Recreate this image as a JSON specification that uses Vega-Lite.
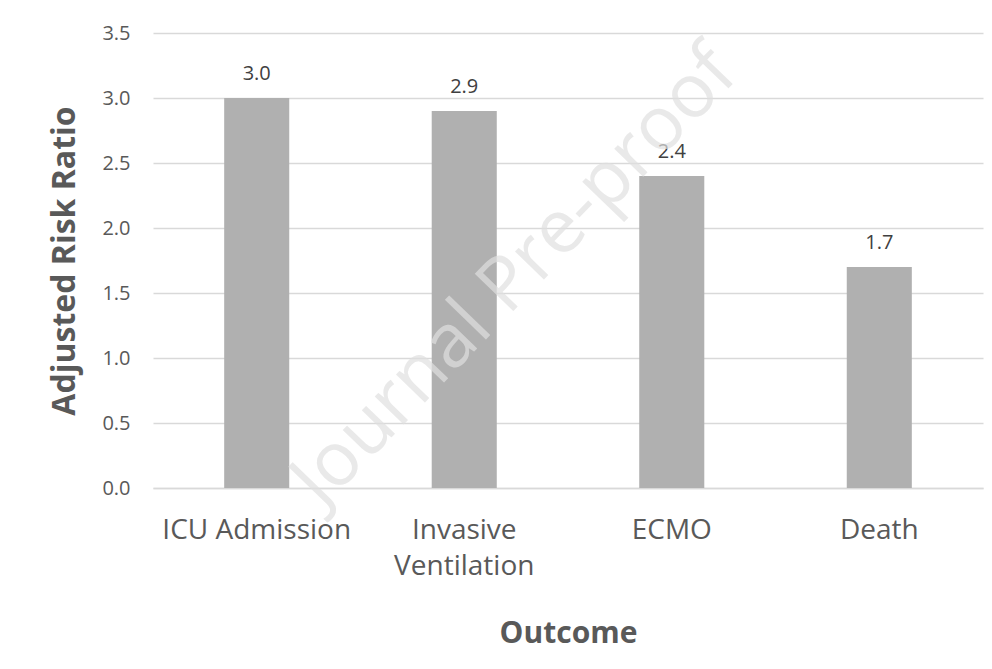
{
  "$schema": "https://vega.github.io/schema/vega-lite/v6.json",
  "autosize": {"type": "none"},
  "width": 830,
  "height": 455,
  "padding": {"left": 153, "top": 33, "right": 9, "bottom": 181},
  "background": "white",
  "config": {
    "view": {"stroke": null},
    "font": "Open Sans"
  },
  "data": {
    "values": [
      {"Outcome": "ICU Admission", "RR": 3.0},
      {"Outcome": "Invasive Ventilation", "RR": 2.9},
      {"Outcome": "ECMO", "RR": 2.4},
      {"Outcome": "Death", "RR": 1.7}
    ]
  },
  "encoding": {
    "x": {
      "field": "Outcome",
      "type": "nominal",
      "sort": null,
      "scale": {"paddingInner": 0.6865, "paddingOuter": 0.343},
      "axis": {
        "title": "Outcome",
        "titleFont": "Open Sans",
        "titleFontSize": 30,
        "titleFontWeight": "bold",
        "titleColor": "#595959",
        "titlePadding": 38,
        "labelAngle": 0,
        "labelFont": "Open Sans",
        "labelFontSize": 28,
        "labelColor": "#595959",
        "labelPadding": 28,
        "labelLineHeight": 36,
        "labelLimit": 400,
        "labelExpr": "datum.value == 'Invasive Ventilation' ? ['Invasive', 'Ventilation'] : datum.value",
        "domainColor": "#D9D9D9",
        "domainWidth": 1.5,
        "ticks": false
      }
    },
    "y": {
      "field": "RR",
      "type": "quantitative",
      "scale": {"domain": [0, 3.5], "nice": false},
      "axis": {
        "title": "Adjusted Risk Ratio",
        "titleFont": "Open Sans",
        "titleFontSize": 32,
        "titleFontWeight": "bold",
        "titleColor": "#595959",
        "titlePadding": 20,
        "values": [0, 0.5, 1, 1.5, 2, 2.5, 3, 3.5],
        "format": ".1f",
        "labelFont": "Open Sans",
        "labelFontSize": 20,
        "labelColor": "#595959",
        "labelPadding": 23,
        "domain": false,
        "ticks": false,
        "gridColor": "#D9D9D9",
        "gridWidth": 1.5
      }
    }
  },
  "layer": [
    {
      "mark": {"type": "bar", "color": "#B0B0B0"}
    },
    {
      "mark": {"type": "text", "dy": -24, "fontSize": 20, "color": "#404040", "font": "Open Sans"},
      "encoding": {
        "text": {"field": "RR", "type": "quantitative", "format": ".1f"}
      }
    },
    {
      "data": {"values": [{"t": "Journal Pre-proof", "pos": "Invasive Ventilation", "v": 2.0}]},
      "mark": {"type": "text", "angle": -46, "fontSize": 75, "color": "#E0E0E0", "opacity": 0.7, "font": "Open Sans", "align": "center", "baseline": "middle", "dy": 70},
      "encoding": {
        "x": {"field": "pos", "type": "nominal"},
        "y": {"field": "v", "type": "quantitative"},
        "text": {"field": "t"}
      }
    }
  ]
}
